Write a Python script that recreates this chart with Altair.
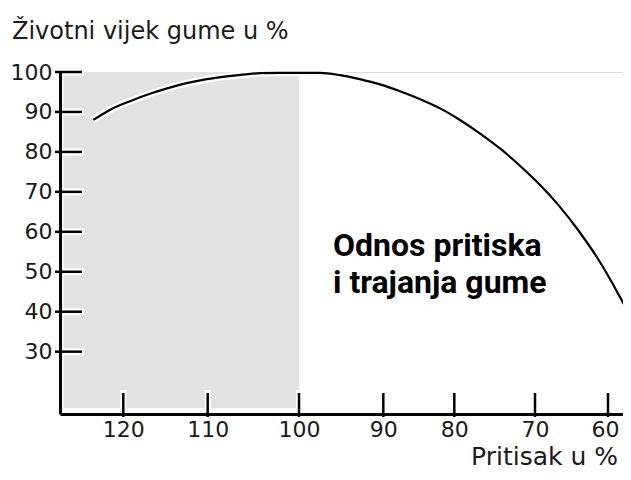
import altair as alt
import pandas as pd

# ---- data ----
pressure = [123.55, 121.6, 119.2, 116.85, 114.5, 112.5, 110.1, 107.9, 105.9, 104.3,
            102.1, 99.9, 97.5, 95.1, 92.8, 90.4, 87.65, 84.8, 82.0, 79.3,
            76.8, 74.3, 71.9, 69.3, 66.7, 64.0, 61.3, 58.7, 57.7]
life = [88.0, 90.5, 92.7, 94.55, 96.1, 97.2, 98.2, 98.9, 99.4, 99.7,
        99.8, 99.8, 99.8, 99.2, 98.2, 96.9, 95.2, 93.2, 90.9, 88.0,
        84.6, 80.8, 76.6, 71.7, 66.5, 60.2, 53.0, 44.7, 41.2]
x_ticks = [120, 110, 100, 90, 80, 70, 60]
y_ticks = [100, 90, 80, 70, 60, 50, 40, 30]
shade_pressure = [127.1, 100]
shade_life = [15.9, 100]
y_title = "Životni vijek gume u %"
x_title = "Pritisak u %"
note = ["Odnos pritiska", "i trajanja gume"]

# ---- layout ----
W, H = 563, 342
# the reference's pressure axis is not evenly spaced: piecewise scale
x_scale = alt.Scale(domain=[58.0, 60, 70, 80, 90, 100, 110, 120, 127.5],
                    range=[563, 548, 475, 394.3, 323.3, 239, 147.7, 63.3, 0],
                    nice=False, zero=False)
y_scale = alt.Scale(domain=[14.4, 100], nice=False, zero=False)

axis_common = dict(title=None, grid=False, ticks=False, tickSize=0,
                   domainColor="black", domainWidth=3,
                   labelFont="DejaVu Sans", labelFontSize=22, labelColor="#1a1a1a",
                   labelFlush=False, labelOverlap=False, zindex=1, format="d")
x_axis = alt.Axis(values=x_ticks, labelPadding=5,
                  labelOffset=alt.ExprRef(expr="datum.value == 60 ? -3 : 0"),
                  **axis_common)
y_axis = alt.Axis(values=y_ticks, labelPadding=8, **axis_common)


def X(field):
    return alt.X(field, type="quantitative", scale=x_scale, axis=x_axis)


def Y(field):
    return alt.Y(field, type="quantitative", scale=y_scale, axis=y_axis)


curve_df = pd.DataFrame({"p": pressure, "l": life, "o": list(range(len(pressure)))})
shade_df = pd.DataFrame({"x": [shade_pressure[0]], "x2": [shade_pressure[1]],
                         "y": [shade_life[0]], "y2": [shade_life[1]]})
yt_df = pd.DataFrame({"v": y_ticks})
xt_df = pd.DataFrame({"v": x_ticks})
one = pd.DataFrame({"a": [0]})

shade = alt.Chart(shade_df).mark_rect(color="#e2e2e2").encode(
    x=X("x"), x2="x2", y=Y("y"), y2="y2")

ytick_halo = alt.Chart(yt_df).mark_rule(color="white", strokeWidth=7).encode(
    y=Y("v"), x=alt.value(-5), x2=alt.value(24))
ytick = alt.Chart(yt_df).mark_rule(color="black", strokeWidth=2.5).encode(
    y=Y("v"), x=alt.value(-5), x2=alt.value(22))
xtick_halo = alt.Chart(xt_df).mark_rule(color="white", strokeWidth=6).encode(
    x=X("v"), y=alt.value(H - 24), y2=alt.value(H))
xtick = alt.Chart(xt_df).mark_rule(color="black", strokeWidth=2.5).encode(
    x=X("v"), y=alt.value(H - 21), y2=alt.value(H + 3))

halo = alt.Chart(curve_df).mark_line(color="white", strokeWidth=7, interpolate="monotone").encode(
    x=X("p"), y=Y("l"), order="o:Q")
curve = alt.Chart(curve_df).mark_line(color="black", strokeWidth=2.2, interpolate="monotone").encode(
    x=X("p"), y=Y("l"), order="o:Q")

ytitle = alt.Chart(one).mark_text(font="DejaVu Sans", fontSize=24, align="left",
                                  baseline="alphabetic", color="#1a1a1a").encode(
    x=alt.value(-48), y=alt.value(-33), text=alt.value(y_title))
xtitle = alt.Chart(one).mark_text(font="DejaVu Sans", fontSize=25, align="right",
                                  baseline="alphabetic", color="#1a1a1a").encode(
    x=alt.value(558), y=alt.value(393), text=alt.value(x_title))
note_t = alt.Chart(one).mark_text(font="Roboto", fontSize=32, fontWeight="bold", align="left",
                                  baseline="alphabetic", color="black", lineHeight=37).encode(
    x=alt.value(273), y=alt.value(184), text=alt.value(note))

chart = alt.layer(shade, ytick_halo, xtick_halo, halo, curve, ytick, xtick,
                  ytitle, xtitle, note_t).properties(
    width=W, height=H,
    padding={"left": 52, "top": 64, "right": 0, "bottom": 56},
    autosize="none",
).configure_view(strokeWidth=0, stroke="transparent").configure(background="white")

chart.save("out.html", embed_options={"renderer": "svg", "actions": False})
